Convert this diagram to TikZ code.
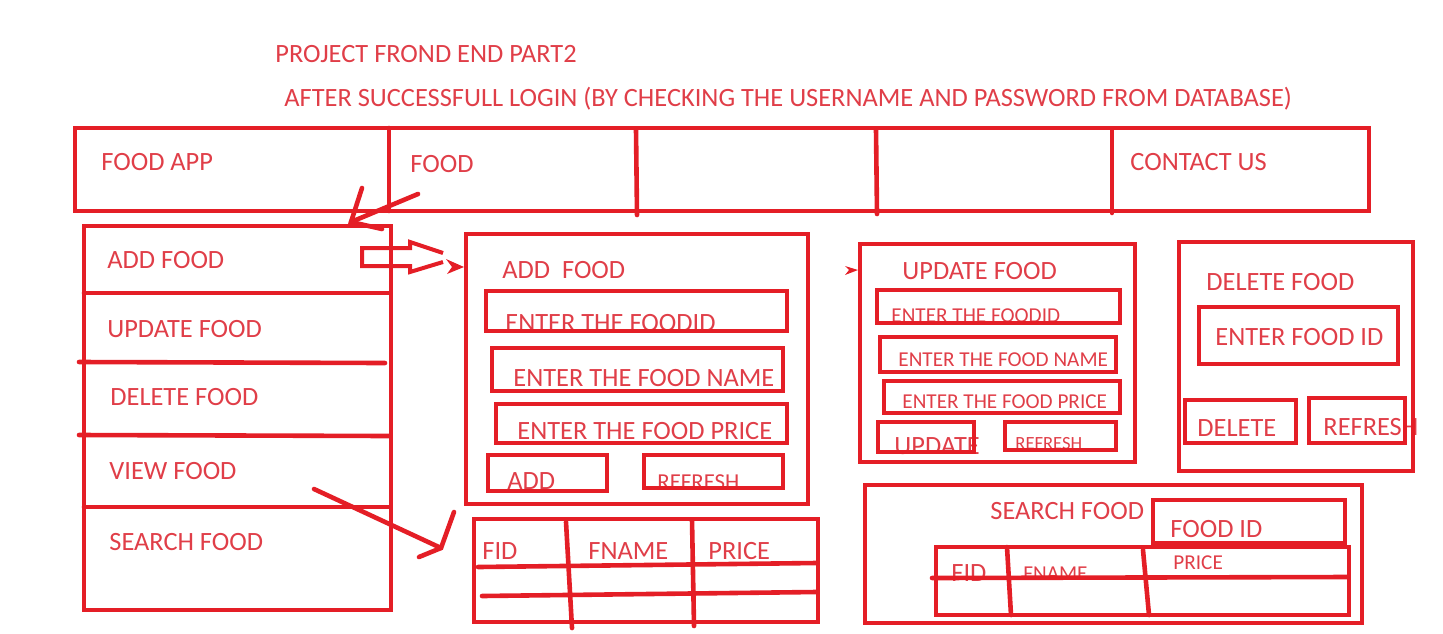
\documentclass[tikz,border=0pt]{standalone}
\usepackage{fontspec}
\setmainfont{Carlito}
\usetikzlibrary{fit}
\definecolor{linered}{RGB}{228,30,38}
\definecolor{textred}{RGB}{224,62,72}

\begin{document}
\begin{tikzpicture}[
    x=0.5pt, y=-0.5pt,
    box/.style={draw=linered, line width=2.3pt, inner sep=0pt},
    line/.style={draw=linered, line width=2.3pt, line cap=round},
    lbl/.style={anchor=base west, inner sep=0pt, text=textred, font=\fontsize{13.2}{15}\selectfont},
    small/.style={lbl, font=\fontsize{10.6}{12}\selectfont}
]
    \useasboundingbox (0,0) rectangle (1443,633);

    % titles
    \node[lbl] (title) at (275,62) {PROJECT FROND END PART2};
    \node[lbl] (login) at (284,106) {AFTER SUCCESSFULL LOGIN (BY CHECKING THE USERNAME AND PASSWORD FROM DATABASE)};

    % top bar
    \node[lbl] (tapp) at (101,170) {FOOD APP};
    \node[lbl] (tfood) at (410,172) {FOOD};
    \node[lbl] (tcontact) at (1130,170) {CONTACT US};
    \node[box, fit={(75,128) (1369,211)}] (nav) {};
    \draw[line] (389,128) -- (389,211);
    \draw[line] (636,130) -- (637,215);
    \draw[line] (876,130) -- (877,214);
    \draw[line] (1112,130) -- (1112,213);

    % side menu
    \node[lbl] (madd) at (107,268) {ADD FOOD};
    \node[lbl] (mupd) at (107,337) {UPDATE FOOD};
    \node[lbl] (mdel) at (110,405) {DELETE FOOD};
    \node[lbl] (mview) at (109,479) {VIEW FOOD};
    \node[lbl] (msearch) at (109,550) {SEARCH FOOD};
    \node[box, fit={(84,226) (391,610)}] (menu) {};
    \draw[line] (84,293) -- (390,293);
    \draw[line] (79,362) -- (385,363);
    \draw[line] (79,435) -- (390,436);
    \draw[line] (84,507) -- (390,507);

    % add food form
    \node[lbl] (atitle) at (502,278) {ADD\ \ FOOD};
    \node[lbl] (aid) at (505,331) {ENTER THE FOODID};
    \node[lbl] (aname) at (513,386) {ENTER THE FOOD NAME};
    \node[lbl] (aprice) at (517,439) {ENTER THE FOOD PRICE};
    \node[lbl] (abtn) at (507,489) {ADD};
    \node[lbl, font=\fontsize{11.4}{13}\selectfont] (aref) at (657,489) {REFRESH};
    \node[box, fit={(466,234) (808,504)}] (addform) {};
    \node[box, fit={(486,291) (787,331)}] (aidbox) {};
    \node[box, fit={(492,348) (783,391)}] (anamebox) {};
    \node[box, fit={(496,404) (787,443)}] (apricebox) {};
    \node[box, fit={(488,455) (607,491)}] (addbtn) {};
    \node[box, fit={(644,455) (783,488)}] (arefbtn) {};

    % food table
    \node[lbl] (tfid) at (482,559) {FID};
    \node[lbl] (tfname) at (588,559) {FNAME};
    \node[lbl] (tprice) at (708,559) {PRICE};
    \node[box, fit={(474,519) (818,622)}] (table) {};
    \draw[line] (478,567) -- (816,563);
    \draw[line] (482,596) -- (816,592);
    \draw[line] (566,522) -- (572,628);
    \draw[line] (692,520) -- (694,626);

    % update food form
    \node[lbl] (utitle) at (902,279) {UPDATE FOOD};
    \node[small] (uid) at (891,322) {ENTER THE FOODID};
    \node[small] (uname) at (898,366) {ENTER THE FOOD NAME};
    \node[small] (uprice) at (902,408) {ENTER THE FOOD PRICE};
    \node[lbl] (ubtn) at (894,454) {UPDATE};
    \node[lbl, font=\fontsize{9.3}{11}\selectfont] (uref) at (1015,449) {REFRESH};
    \node[box, fit={(860,244) (1135,462)}] (updform) {};
    \node[box, fit={(877,290) (1120,323)}] (uidbox) {};
    \node[box, fit={(880,337) (1116,372)}] (unamebox) {};
    \node[box, fit={(884,381) (1120,413)}] (upricebox) {};
    \node[box, fit={(878,422) (974,452)}] (updbtn) {};
    \node[box, fit={(1005,422) (1116,450)}] (urefbtn) {};

    % delete food form
    \node[lbl] (dtitle) at (1206,290) {DELETE FOOD};
    \node[lbl] (did) at (1215,345) {ENTER FOOD ID};
    \node[lbl] (dbtn) at (1197,436) {DELETE};
    \node[lbl] (dref) at (1323,435) {REFRESH};
    \node[box, fit={(1179,242) (1413,471)}] (delform) {};
    \node[box, fit={(1199,307) (1398,364)}] (didbox) {};
    \node[box, fit={(1185,400) (1296,443)}] (delbtn) {};
    \node[box, fit={(1309,398) (1405,443)}] (drefbtn) {};

    % search food form
    \node[lbl] (stitle) at (990,519) {SEARCH FOOD};
    \node[lbl] (sid) at (1170,537) {FOOD ID};
    \node[lbl] (sfid) at (951,581) {FID};
    \node[small] (sfname) at (1023,580) {FNAME};
    \node[small] (sprice) at (1173,569) {PRICE};
    \node[box, fit={(865,485) (1362,623)}] (searchform) {};
    \node[box, fit={(1153,500) (1345,543)}] (sidbox) {};
    \node[box, fit={(936,547) (1349,615)}] (stable) {};
    \draw[line] (932,578) -- (1348,577);
    \draw[line] (1007,547) -- (1011,615);
    \draw[line] (1143,550) -- (1149,615);

    % arrows
    \coordinate (navtip) at (351,222);
    \coordinate (navtail) at (418,194);
    \draw[line] (navtail) -- (navtip);
    \draw[line] (362,188) -- (navtip) -- (382,229);

    \draw[line, line width=2pt, line cap=butt] (443,253) -- (410,242) -- (410,248) -- (362,248)
        -- (362,266) -- (410,266) -- (410,272) -- (443,262);
    \fill[linered] (446,259) -- (464,267) -- (447,274) -- (452,267) -- cycle;

    \fill[linered] (845,266) -- (858,270) -- (845,275) -- (849,270) -- cycle;

    \coordinate (viewtail) at (314,489);
    \coordinate (viewtip) at (441,548);
    \draw[line] (viewtail) -- (viewtip);
    \draw[line] (454,512) -- (viewtip) -- (419,557);
\end{tikzpicture}
\end{document}
